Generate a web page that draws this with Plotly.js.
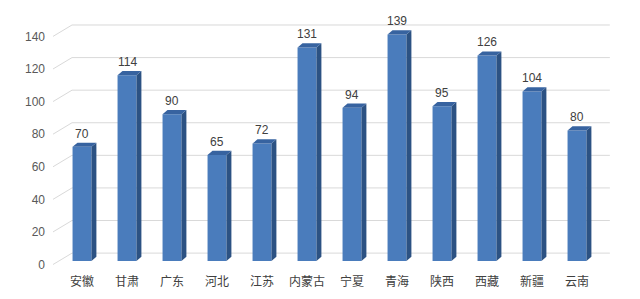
<!DOCTYPE html>
<html>
<head>
<meta charset="utf-8">
<script src="https://cdn.plot.ly/plotly-3.0.1.min.js"></script>
<style>
  html, body { margin: 0; padding: 0; background: #ffffff; }
  #chart { width: 640px; height: 299px; }
</style>
</head>
<body>
<div id="chart"></div>
<script>
// Provinces and their values
const categories = ['安徽', '甘肃', '广东', '河北', '江苏', '内蒙古', '宁夏', '青海', '陕西', '西藏', '新疆', '云南'];
const values = [70, 114, 90, 65, 72, 131, 94, 139, 95, 126, 104, 80];
const yTicks = [0, 20, 40, 60, 80, 100, 120, 140];

// Pseudo-3D geometry (in axis units)
const halfW = 0.21;      // half width of the front face
const depthX = 0.11;     // side face horizontal depth
const depthY = 2.6;      // top face vertical depth
const wallY = 7;         // back-wall gridline lift
const wallStart = -0.644, wallBend = -0.222, wallEnd = 11.73;
const floorDrop = 2.2;   // front floor edge sits slightly in front of (below) the bars

const yRange = [-2.5, 154];

const frontColor = '#4a7cbc';
const sideColor = '#2c5283';
const topColor = '#3763a0';

const shapes = [];

// back-wall gridlines with the slanted floor edge on the left (front-floor axis y2)
yTicks.forEach(v => {
  shapes.push({
    type: 'path', layer: 'below', xref: 'x', yref: 'y2',
    path: `M ${wallStart} ${v} L ${wallBend} ${v + wallY} L ${wallEnd} ${v + wallY}`,
    line: { color: '#d9d9d9', width: 1 }
  });
});

// side and top faces of each bar
values.forEach((v, i) => {
  const r = i + halfW, l = i - halfW;
  shapes.push({
    type: 'path', layer: 'above', xref: 'x', yref: 'y',
    path: `M ${r} 0 L ${r + depthX} ${depthY} L ${r + depthX} ${v + depthY} L ${r} ${v} Z`,
    fillcolor: sideColor, line: { width: 0 }
  });
  shapes.push({
    type: 'path', layer: 'above', xref: 'x', yref: 'y',
    path: `M ${l} ${v} L ${r} ${v} L ${r + depthX} ${v + depthY} L ${l + depthX} ${v + depthY} Z`,
    fillcolor: topColor, line: { width: 0 }
  });
});

// value labels above each bar
const annotations = values.map((v, i) => ({
  x: i, y: v + depthY, xref: 'x', yref: 'y',
  text: String(v), showarrow: false, yanchor: 'bottom', yshift: 0,
  font: { family: 'Liberation Sans, Arial, sans-serif', size: 12, color: '#404040' }
}));

const trace = {
  type: 'bar',
  x: categories.map((c, i) => i),
  y: values,
  marker: { color: frontColor, line: { width: 0 } },
  hoverinfo: 'skip'
};

const layout = {
  width: 640, height: 299,
  margin: { l: 46, r: 27, t: 10, b: 34 },
  paper_bgcolor: '#ffffff', plot_bgcolor: '#ffffff',
  showlegend: false,
  bargap: 0.58,
  xaxis: {
    range: [-0.8, 11.8],
    tickmode: 'array',
    tickvals: categories.map((c, i) => i),
    ticktext: categories,
    showgrid: false, zeroline: false, showline: false,
    ticks: 'outside', ticklen: 6, tickcolor: 'rgba(0,0,0,0)',
    tickfont: { family: 'Noto Sans CJK SC, sans-serif', size: 12, color: '#404040' }
  },
  // bar axis (hidden labels)
  yaxis: {
    range: yRange,
    showticklabels: false,
    showgrid: false, zeroline: false, showline: false, ticks: ''
  },
  // front-floor value axis carrying the tick labels
  yaxis2: {
    overlaying: 'y', side: 'left',
    range: [yRange[0] + floorDrop, yRange[1] + floorDrop],
    tickmode: 'array',
    tickvals: yTicks,
    showgrid: false, zeroline: false, showline: false,
    ticks: '',
    tickfont: { family: 'Liberation Sans, Arial, sans-serif', size: 12, color: '#595959' }
  },
  shapes: shapes,
  annotations: annotations
};

// invisible trace to activate the labelled axis
const axisTrace = {
  type: 'scatter', x: [0], y: [0], yaxis: 'y2',
  mode: 'markers', marker: { opacity: 0 }, hoverinfo: 'skip'
};

Plotly.newPlot('chart', [trace, axisTrace], layout, { displayModeBar: false, staticPlot: true });
</script>
</body>
</html>
